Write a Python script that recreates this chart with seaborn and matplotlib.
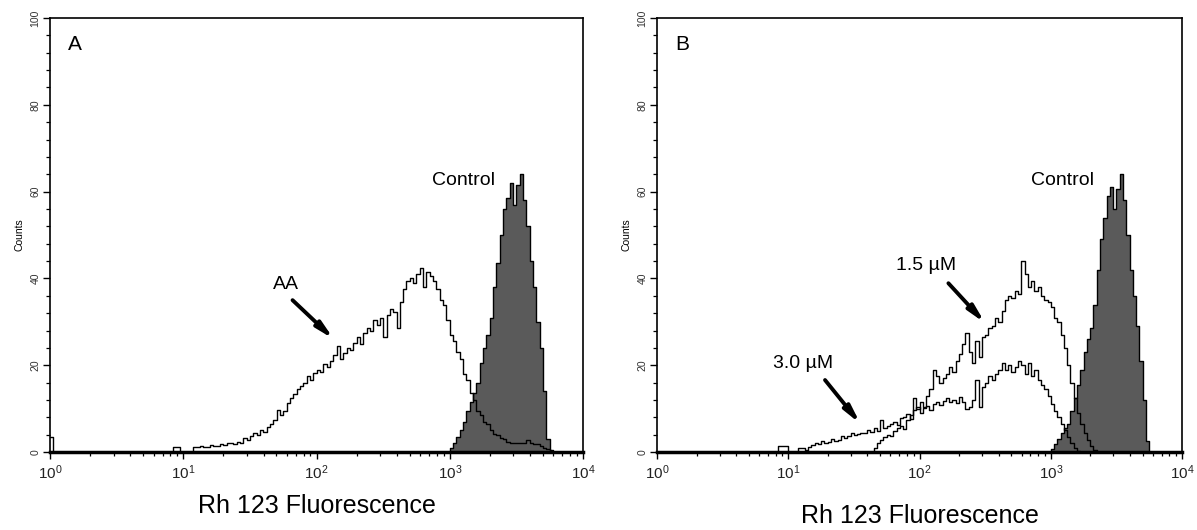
import numpy as np
import pandas as pd
import matplotlib
matplotlib.use("Agg")
import matplotlib.pyplot as plt
import seaborn as sns
from matplotlib.ticker import LogLocator, MultipleLocator, NullFormatter

# ---------------- data (counts per log channel, 40 channels per decade) ----------------
CHANNELS_PER_DECADE = 40
N_CHANNELS = 160

x_label = "Rh 123 Fluorescence"
y_label = "Counts"
panel_labels = ["A", "B"]

# Panel A, AA-treated cells
a_aa_spike_start = 0
a_aa_spike = [3.5]
a_aa_start = 37
a_aa_counts = [
    1.2, 1.2, 0, 0, 0, 0, 1.2, 1.2, 1.5, 1.2, 1.2, 1.6, 1.4, 1.4, 1.8, 1.6,
    2.0, 2.0, 1.8, 2.4, 2.2, 3.2, 2.8, 3.8, 4.3, 4.0, 5.2, 4.6, 5.8, 6.4,
    7.5, 9.8, 8.6, 9.5, 11.2, 12.5, 13.4, 14.6, 15.2, 16.0, 17.5, 16.6, 18.2,
    19.0, 18.4, 20.2, 19.6, 21.0, 22.4, 24.5, 21.5, 22.8, 24.0, 23.6, 25.2,
    26.5, 25.0, 27.4, 28.6, 27.8, 30.5, 29.2, 31.0, 26.5, 31.5, 33.0, 32.2,
    28.5, 34.5, 37.5, 39.5, 40.2, 39.0, 41.0, 42.5, 38.0, 41.5, 40.5, 39.5,
    37.5, 35.0, 34.0, 30.5, 27.0, 25.5, 23.0, 21.5, 18.0, 16.5, 13.5, 12.0,
    9.5, 8.5, 7.0, 6.5, 5.0, 4.2, 4.0, 3.2, 3.0, 2.4, 2.2, 2.0, 2.0, 2.2,
    2.0, 2.8, 2.2, 1.8, 1.8, 1.4, 1.0, 0.8, 0.4,
]
# Panel A, control
a_ctrl_start = 120
a_ctrl_counts = [
    1.0, 2.0, 3.5, 5.0, 7.0, 9.5, 11.5, 13.5, 16.0, 20.5, 24.0, 27.0, 31.0,
    38.0, 43.5, 50.0, 56.0, 58.5, 62.0, 57.0, 61.5, 64.0, 58.0, 52.0, 44.0,
    38.0, 30.0, 24.0, 14.0, 3.0,
]

# Panel B, 3.0 uM
b_30_start = 37
b_30_counts = [
    1.4, 1.4, 1.4, 0, 0, 0, 1.0, 1.0, 0.5, 1.2, 1.6, 2.0, 1.8, 2.6, 2.2,
    2.4, 3.0, 2.6, 2.8, 3.6, 3.2, 3.8, 4.5, 4.0, 4.2, 4.4, 4.4, 5.0, 4.6,
    5.6, 4.8, 7.5, 5.5, 6.0, 6.5, 7.0, 6.2, 7.8, 8.0, 8.8, 7.6, 9.6, 10.5,
    9.0, 10.2, 10.6, 9.8, 11.0, 11.6, 10.8, 11.8, 12.4, 11.6, 12.0, 11.2,
    12.6, 11.5, 10.0, 10.5, 12.0, 16.5, 10.5, 15.0, 16.0, 17.5, 16.5, 18.0,
    19.0, 20.5, 19.0, 20.0, 18.5, 19.5, 21.0, 20.0, 18.0, 20.5, 17.5, 19.0,
    16.5, 15.5, 14.5, 13.0, 11.0, 9.5, 8.0, 6.5, 5.0, 3.5, 2.0, 1.0, 0.3,
]
# Panel B, 1.5 uM
b_15_start = 66
b_15_counts = [
    1.0, 2.2, 2.8, 3.4, 4.0, 3.6, 4.8, 5.5, 6.0, 5.4, 7.5, 8.5, 12.5, 10.0,
    11.5, 10.5, 13.0, 14.5, 19.0, 17.5, 16.0, 17.0, 18.0, 19.5, 18.5, 21.0,
    22.5, 25.0, 27.5, 23.0, 20.5, 25.5, 22.0, 26.5, 27.0, 28.5, 29.0, 31.0,
    30.0, 32.5, 35.0, 36.0, 35.5, 37.0, 36.5, 44.0, 41.0, 38.0, 39.5, 37.0,
    38.0, 36.0, 35.0, 34.5, 33.5, 31.0, 30.0, 27.0, 24.0, 20.0, 16.0, 12.5,
    9.0, 6.5, 4.5, 2.8, 1.5, 0.5,
]
# Panel B, control
b_ctrl_start = 120
b_ctrl_counts = [
    0.8, 1.8, 3.0, 4.5, 5.5, 6.5, 9.5, 12.5, 15.5, 19.0, 23.0, 26.0, 28.5,
    34.0, 42.0, 49.0, 54.0, 59.0, 61.0, 56.0, 60.5, 64.0, 58.0, 50.0, 42.0,
    36.0, 29.0, 21.0, 12.0, 2.5,
]


def full(*pieces):
    arr = np.zeros(N_CHANNELS)
    for start, vals in pieces:
        arr[start:start + len(vals)] += np.asarray(vals, dtype=float)
    return arr


centers = 10 ** ((np.arange(N_CHANNELS) + 0.5) / CHANNELS_PER_DECADE)

# ---------------- style ----------------
sns.set_style("ticks")
plt.rcParams["font.family"] = ["Liberation Sans", "DejaVu Sans"]
plt.rcParams["mathtext.fontset"] = "custom"
plt.rcParams["mathtext.rm"] = "Liberation Sans"
plt.rcParams["mathtext.it"] = "Liberation Sans"
plt.rcParams["text.color"] = "black"
plt.rcParams["axes.labelcolor"] = "black"
plt.rcParams["xtick.color"] = "black"
plt.rcParams["ytick.color"] = "black"

fig = plt.figure(figsize=(11.97, 5.30), dpi=100)
axA = fig.add_axes([0.0418, 0.147, 0.4453, 0.819])
axB = fig.add_axes([0.5489, 0.147, 0.4386, 0.819])

CTRL_FILL = "#5a5a5a"
hist_kw = dict(binwidth=1 / CHANNELS_PER_DECADE, binrange=(0, 4), log_scale=True,
               element="step", stat="count")


def draw_hist(ax, counts, filled):
    df = pd.DataFrame({"x": centers, "w": counts})
    if filled:
        sns.histplot(data=df, x="x", weights="w", fill=True, color=CTRL_FILL,
                     edgecolor="black", linewidth=1.0, alpha=1, ax=ax, **hist_kw)
    else:
        sns.histplot(data=df, x="x", weights="w", fill=False, color="black",
                     linewidth=1.0, ax=ax, **hist_kw)


draw_hist(axA, full((a_ctrl_start, a_ctrl_counts)), True)
draw_hist(axA, full((a_aa_spike_start, a_aa_spike), (a_aa_start, a_aa_counts)), False)

draw_hist(axB, full((b_ctrl_start, b_ctrl_counts)), True)
draw_hist(axB, full((b_30_start, b_30_counts)), False)
draw_hist(axB, full((b_15_start, b_15_counts)), False)

for ax, lab, xpad in [(axA, panel_labels[0], 9), (axB, panel_labels[1], 16)]:
    ax.set_xscale("log")
    ax.set_xlim(1, 1e4)
    ax.set_ylim(0, 100)
    ax.xaxis.set_major_locator(LogLocator(base=10, numticks=10))
    ax.xaxis.set_minor_locator(LogLocator(base=10, subs=np.arange(2, 10), numticks=20))
    ax.xaxis.set_minor_formatter(NullFormatter())
    ax.yaxis.set_major_locator(MultipleLocator(20))
    ax.yaxis.set_minor_locator(MultipleLocator(4))
    ax.tick_params(axis="x", which="major", labelsize=11, length=5, width=1,
                   direction="out", pad=3, labelcolor="#222222")
    ax.tick_params(axis="x", which="minor", length=3, width=0.9, direction="out")
    ax.tick_params(axis="y", which="major", labelsize=7.5, length=5, width=1,
                   direction="out", labelrotation=90, labelcolor="#333333", pad=2)
    ax.tick_params(axis="y", which="minor", length=3, width=0.9, direction="out")
    for lbl in ax.get_yticklabels():
        lbl.set_va("center")
    for s in ax.spines.values():
        s.set_linewidth(1.2)
        s.set_color("black")
    ax.spines["bottom"].set_linewidth(2.5)
    ax.set_xlabel(x_label, fontsize=18, labelpad=xpad)
    ax.set_ylabel(y_label, fontsize=7.5, labelpad=4)
    ax.text(10 ** 0.19, 93.8, lab, fontsize=15, ha="center", va="center")

arrow = dict(arrowstyle="-|>,head_length=1.0,head_width=0.22", lw=2.8, color="black",
             shrinkA=0, shrinkB=0)

axA.text(10 ** 3.10, 62.5, "Control", fontsize=14, ha="center", va="center")
axA.text(10 ** 1.77, 38.5, "AA", fontsize=14, ha="center", va="center")
axA.annotate("", xy=(10 ** 2.13, 26.0), xytext=(10 ** 1.82, 35.0), arrowprops=arrow)

axB.text(10 ** 3.09, 62.5, "Control", fontsize=14, ha="center", va="center")
axB.text(10 ** 2.05, 43.0, "1.5 µM", fontsize=14, ha="center", va="center")
axB.annotate("", xy=(10 ** 2.50, 29.7), xytext=(10 ** 2.22, 38.9), arrowprops=arrow)
axB.text(10 ** 1.11, 20.3, "3.0 µM", fontsize=14, ha="center", va="center")
axB.annotate("", xy=(10 ** 1.55, 6.5), xytext=(10 ** 1.28, 16.6), arrowprops=arrow)

fig.savefig("out.png", dpi=100)
